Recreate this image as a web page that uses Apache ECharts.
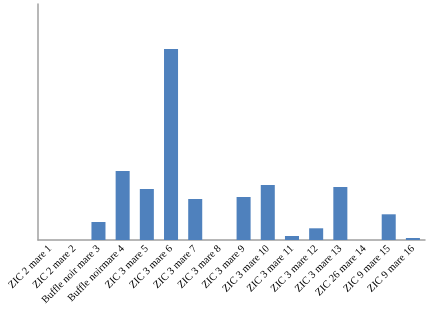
<!DOCTYPE html>
<html><head><meta charset="utf-8">
<script src="https://cdn.jsdelivr.net/npm/echarts@6/dist/echarts.min.js"></script>
<style>html,body{margin:0;padding:0;background:#fff}#c{width:427px;height:323px}</style>
</head><body><div id="c"></div>
<script>
const categories = ["ZIC 2 mare 1","ZIC 2 mare 2","Buffle noir mare 3","Buffle noirmare 4","ZIC 3 mare 5","ZIC 3 mare 6","ZIC 3 mare 7","ZIC 3 mare 8","ZIC 3 mare 9","ZIC 3 mare 10","ZIC 3 mare 11","ZIC 3 mare 12","ZIC 3 mare 13","ZIC 26 mare 14","ZIC 9 mare 15","ZIC 9 mare 16"];
const values = [0,0,18,69,51,191,41,0,43,55,4,11.7,53,0,25.7,2];
const chart = echarts.init(document.getElementById('c'));
chart.setOption({
  animation:false,
  grid:{left:38,right:2,top:4,bottom:83},
  xAxis:{type:'category',data:categories,
    axisLine:{lineStyle:{color:'#a0a0a0',width:1.5}},axisTick:{show:false},
    axisLabel:{interval:0,rotate:45,fontFamily:'Liberation Serif',fontSize:10.5,color:'#000',margin:7}},
  yAxis:{type:'value',min:0,max:236,axisLine:{show:true,lineStyle:{color:'#a0a0a0',width:1.5}},
    axisTick:{show:false},axisLabel:{show:false},splitLine:{show:false}},
  series:[{type:'bar',data:values,barWidth:'58%',itemStyle:{color:'#4f81bd'}}]
});
</script></body></html>
